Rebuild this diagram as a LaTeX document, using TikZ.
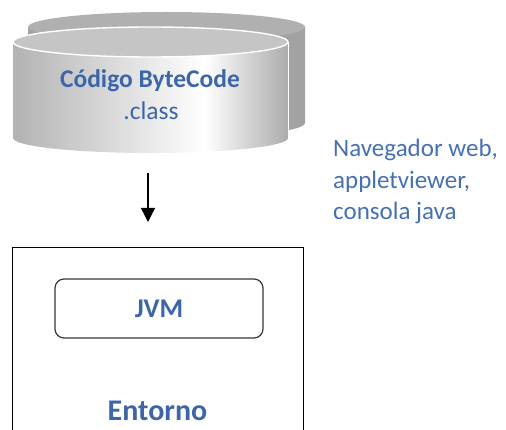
\documentclass[tikz,border=0pt]{standalone}
\usepackage{fontspec}
\setmainfont{Carlito}
\usetikzlibrary{arrows.meta}

% colours
\definecolor{txtblue}{HTML}{3D66A8}
\definecolor{notblue}{HTML}{4570B4}
\definecolor{backtop}{HTML}{B0B0B0}
\definecolor{backside}{HTML}{A2A2A2}
\definecolor{fronttop}{HTML}{C5C5C5}
\definecolor{sideL}{HTML}{B2B2B2}
\definecolor{sideR}{HTML}{ABABAB}

\tikzset{
  lbl/.style={text=txtblue, inner sep=0pt},
  boldlbl/.style={lbl, font=\bfseries\fontsize{25.5}{30}\selectfont},
  envbox/.style={draw=black, line width=1.2pt, fill=none, inner sep=0pt},
  vmbox/.style={draw=black!78, line width=1.2pt, rounded corners=9pt, fill=white,
    text=txtblue, font=\bfseries\fontsize{27}{30}\selectfont},
  flow/.style={line width=1.4pt, -{Triangle[width=14pt,length=14pt]}},
}

\begin{document}
\begin{tikzpicture}[x=1pt,y=1pt]
\useasboundingbox (0,0) rectangle (506,-430);
\clip (0,0) rectangle (506,-430);

% back cylinder
\fill[backside] (28,-27) -- (28,-123)
  arc[start angle=180, end angle=360, x radius=138.5pt, y radius=15pt]
  -- (305,-27) -- cycle;
\fill[backtop] (166.5,-27) ellipse[x radius=138.5pt, y radius=15pt];

% front cylinder: side shaded grey - white - grey
\begin{scope}
  \clip (13,-42) -- (13,-138)
    arc[start angle=180, end angle=360, x radius=137.5pt, y radius=15pt]
    -- (288,-42) -- cycle;
  \shade[left color=sideL, right color=white] (12,-30) rectangle (205,-160);
  \shade[left color=white, right color=sideR] (204.5,-30) rectangle (289,-160);
\end{scope}
\draw[white, line width=0.8pt] (288,-42) -- (288,-138);
\fill[fronttop] (150.5,-42) ellipse[x radius=137.5pt, y radius=15pt];
\draw[white, line width=1.4pt] (150.5,-42) ellipse[x radius=137.5pt, y radius=15pt];

\node[boldlbl, anchor=base] (bytecode) at (150,-88) {Código ByteCode};
\node[lbl, anchor=base, font=\fontsize{25.5}{30}\selectfont] (ext) at (151,-120) {.class};

% side note (base anchor sits on the last line)
\node[lbl, text=notblue, anchor=base west, align=left, font=\fontsize{25}{31.5}\selectfont]
  (clients) at (333,-220) {Navegador web,\\appletviewer,\\consola java};

% flow arrow
\coordinate (flowstart) at (148,-173);
\coordinate (flowend) at (148,-222);
\draw[flow] (flowstart) -- (flowend);

% runtime environment
\node[envbox, anchor=north west, minimum width=291pt, minimum height=230pt]
  (env) at (12,-247) {};
\node[vmbox, minimum width=208pt, minimum height=59pt] (jvm) at (159,-308.5) {JVM};
\node[boldlbl, anchor=base, font=\bfseries\fontsize{30}{34}\selectfont] (entorno)
  at (157.5,-420) {Entorno};
\end{tikzpicture}
\end{document}
